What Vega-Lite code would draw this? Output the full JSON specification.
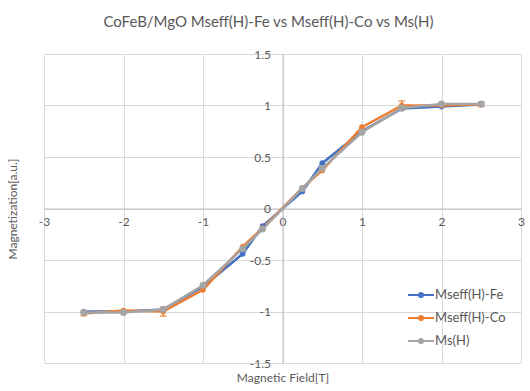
{
  "$schema": "https://vega.github.io/schema/vega-lite/v6.json",
  "width": 477,
  "height": 309,
  "autosize": {"type": "none"},
  "padding": {"left": 44, "top": 54, "right": 9, "bottom": 28},
  "background": "white",
  "title": {
    "text": "CoFeB/MgO Mseff(H)-Fe vs Mseff(H)-Co vs Ms(H)",
    "font": "Lato",
    "fontSize": 15,
    "fontWeight": "normal",
    "color": "#595959",
    "anchor": "middle",
    "offset": 18,
    "dx": -14
  },
  "config": {
    "view": {"stroke": null},
    "axis": {
      "labelFont": "Lato",
      "labelFontSize": 12,
      "labelColor": "#595959",
      "titleFont": "Lato",
      "titleFontSize": 12,
      "titleFontWeight": "normal",
      "titleColor": "#595959",
      "gridColor": "#d9d9d9",
      "gridWidth": 1,
      "domainColor": "#bfbfbf",
      "domainWidth": 1,
      "ticks": false,
      "labelFlush": false,
      "labelOverlap": false,
      "labelBound": false
    },
    "legend": {
      "labelFont": "Lato",
      "labelFontSize": 13,
      "labelColor": "#595959"
    }
  },
  "datasets": {
    "curves": [
      {"series": "Mseff(H)-Fe", "H": -2.5, "M": -1.0},
      {"series": "Mseff(H)-Fe", "H": -2.0, "M": -1.0},
      {"series": "Mseff(H)-Fe", "H": -1.5, "M": -0.98},
      {"series": "Mseff(H)-Fe", "H": -1.0, "M": -0.76},
      {"series": "Mseff(H)-Fe", "H": -0.5, "M": -0.44},
      {"series": "Mseff(H)-Fe", "H": -0.25, "M": -0.17},
      {"series": "Mseff(H)-Fe", "H": 0.25, "M": 0.165},
      {"series": "Mseff(H)-Fe", "H": 0.5, "M": 0.44},
      {"series": "Mseff(H)-Fe", "H": 1.0, "M": 0.75},
      {"series": "Mseff(H)-Fe", "H": 1.5, "M": 0.97},
      {"series": "Mseff(H)-Fe", "H": 2.0, "M": 0.99},
      {"series": "Mseff(H)-Fe", "H": 2.5, "M": 1.01},
      {"series": "Mseff(H)-Co", "H": -2.5, "M": -1.02},
      {"series": "Mseff(H)-Co", "H": -2.0, "M": -0.99},
      {"series": "Mseff(H)-Co", "H": -1.5, "M": -1.0},
      {"series": "Mseff(H)-Co", "H": -1.0, "M": -0.79},
      {"series": "Mseff(H)-Co", "H": -0.5, "M": -0.37},
      {"series": "Mseff(H)-Co", "H": -0.25, "M": -0.19},
      {"series": "Mseff(H)-Co", "H": 0.25, "M": 0.2},
      {"series": "Mseff(H)-Co", "H": 0.5, "M": 0.37},
      {"series": "Mseff(H)-Co", "H": 1.0, "M": 0.79},
      {"series": "Mseff(H)-Co", "H": 1.5, "M": 1.0},
      {"series": "Mseff(H)-Co", "H": 2.0, "M": 1.0},
      {"series": "Mseff(H)-Co", "H": 2.5, "M": 1.01},
      {"series": "Ms(H)", "H": -2.5, "M": -1.01},
      {"series": "Ms(H)", "H": -2.0, "M": -1.01},
      {"series": "Ms(H)", "H": -1.5, "M": -0.98},
      {"series": "Ms(H)", "H": -1.0, "M": -0.745},
      {"series": "Ms(H)", "H": -0.5, "M": -0.39},
      {"series": "Ms(H)", "H": -0.25, "M": -0.2},
      {"series": "Ms(H)", "H": 0.25, "M": 0.195},
      {"series": "Ms(H)", "H": 0.5, "M": 0.39},
      {"series": "Ms(H)", "H": 1.0, "M": 0.74},
      {"series": "Ms(H)", "H": 1.5, "M": 0.975},
      {"series": "Ms(H)", "H": 2.0, "M": 1.015},
      {"series": "Ms(H)", "H": 2.5, "M": 1.015}
    ],
    "errors": [
      {"H": -2.5, "lo": -1.04, "hi": -1.0},
      {"H": -1.5, "lo": -1.045, "hi": -0.955},
      {"H": 1.5, "lo": 0.955, "hi": 1.045},
      {"H": 2.5, "lo": 0.99, "hi": 1.03}
    ]
  },
  "layer": [
    {
      "data": {"name": "errors"},
      "mark": {"type": "errorbar", "ticks": {"size": 7, "thickness": 1.5}, "color": "#ED7D31", "thickness": 1.5},
      "encoding": {
        "x": {"field": "H", "type": "quantitative", "title": "Magnetic Field[T]", "axis": {"labelOverlap": false}},
        "y": {"field": "lo", "type": "quantitative", "title": "Magnetization[a.u.]", "axis": {"labelOverlap": false}},
        "y2": {"field": "hi"}
      }
    },
    {
      "data": {"name": "curves"},
      "mark": {"type": "line", "strokeWidth": 2.5},
      "encoding": {
        "x": {
          "field": "H", "type": "quantitative",
          "scale": {"domain": [-3, 3], "nice": false, "zero": false},
          "axis": {
            "values": [-3, -2, -1, 0, 1, 2, 3],
            "format": "~g",
            "labelExpr": "datum.value == 0 ? '0' : replace(datum.label, '\u2212', '-')",
            "labelOverlap": false,
            "offset": -154.5,
            "labelPadding": 8,
            "title": "Magnetic Field[T]",
            "titleY": 169,
            "titleBaseline": "middle"
          }
        },
        "y": {
          "field": "M", "type": "quantitative",
          "scale": {"domain": [-1.5, 1.5], "nice": false, "zero": false},
          "axis": {
            "values": [-1.5, -1, -0.5, 0, 0.5, 1, 1.5],
            "format": "~g",
            "labelExpr": "datum.value == 0 ? '0' : replace(datum.label, '\u2212', '-')",
            "labelOverlap": false,
            "offset": -238.5,
            "labelPadding": 12,
            "title": "Magnetization[a.u.]",
            "titleX": -270,
            "titleY": 154.5,
            "titleAngle": -90,
            "titleBaseline": "middle",
            "titleAlign": "center"
          }
        },
        "color": {
          "field": "series", "type": "nominal",
          "scale": {"domain": ["Mseff(H)-Fe", "Mseff(H)-Co", "Ms(H)"], "range": ["#4472C4", "#ED7D31", "#A5A5A5"]},
          "legend": {
            "title": null,
            "orient": "none",
            "legendX": 363,
            "legendY": 227,
            "symbolType": "M-1,0L1,0M-0.16,0A0.16,0.16,0,1,1,0.16,0A0.16,0.16,0,1,1,-0.16,0Z",
            "symbolSize": 676,
            "symbolStrokeWidth": 2,
            "rowPadding": 2,
            "labelOffset": 0
          }
        }
      }
    },
    {
      "data": {"name": "curves"},
      "mark": {"type": "point", "filled": true, "opacity": 1, "shape": "circle", "size": 32},
      "encoding": {
        "x": {"field": "H", "type": "quantitative"},
        "y": {"field": "M", "type": "quantitative"},
        "color": {"field": "series", "type": "nominal"}
      }
    },
    {
      "data": {"name": "curves"},
      "transform": [{"filter": "datum.series === 'Ms(H)'"}],
      "mark": {"type": "point", "filled": true, "opacity": 1, "shape": "circle", "size": 48, "color": "#A5A5A5"},
      "encoding": {
        "x": {"field": "H", "type": "quantitative"},
        "y": {"field": "M", "type": "quantitative"}
      }
    }
  ]
}
